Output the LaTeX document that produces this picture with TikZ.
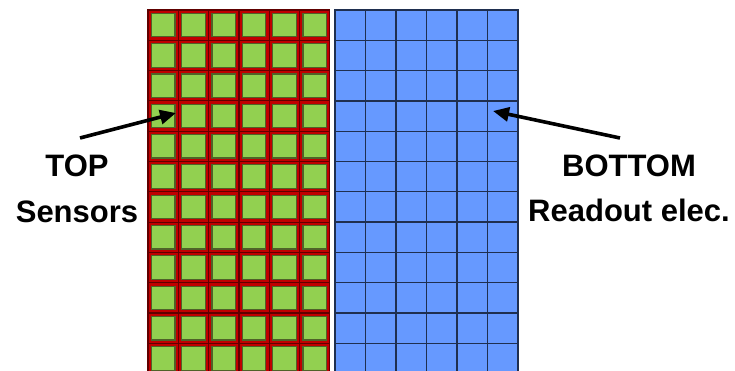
\documentclass[tikz,border=0pt]{standalone}
\usepackage{fontspec}
\setmainfont{Liberation Sans}
\usetikzlibrary{arrows.meta}
\definecolor{padred}{HTML}{C00000}
\definecolor{paddark}{HTML}{600000}
\definecolor{sensgreen}{HTML}{92D050}
\definecolor{sensedge}{HTML}{4F6228}
\definecolor{chipblue}{HTML}{6699FF}
\definecolor{chipline}{HTML}{1F2F50}
\tikzset{
  pixcell/.style={draw=paddark,fill=padred,line width=1.2pt},
  senspad/.style={draw=sensedge,fill=sensgreen,line width=1.2pt},
  rocell/.style={draw=chipline,fill=chipblue,line width=1.3pt},
  lbl/.style={font=\bfseries\fontsize{31}{31}\selectfont,anchor=base,inner sep=0pt},
  ptr/.style={line width=3.6pt,-{Triangle[length=16pt,width=14pt]}}
}
\begin{document}
\begin{tikzpicture}[x=1pt,y=-1pt]
\useasboundingbox (0,0) rectangle (735,371);
\begin{scope}
\clip (0,0) rectangle (735,371);
\foreach \c in {0,...,5}{
  \foreach \r in {0,...,11}{
    \draw[pixcell] (148+30.3*\c,10+30.3*\r) rectangle ++(30.3,30.3);
    \draw[senspad] (151.4+30.3*\c,13.4+30.3*\r) rectangle ++(23.5,23.5);
    \draw[rocell] (335+30.5*\c,10+30.3*\r) rectangle ++(30.5,30.3);
  }}
\end{scope}
\node[lbl] (top) at (77,177) {TOP};
\node[lbl] (sens) at (77,222.5) {Sensors};
\node[lbl] (bot) at (629,177) {BOTTOM};
\node[lbl] (rdo) at (629,222) {Readout elec.};
\coordinate (ltail) at (80,138);
\coordinate (ltip) at (176,113);
\coordinate (rtail) at (620,138);
\coordinate (rtip) at (493,111);
\draw[ptr] (ltail) -- (ltip);
\draw[ptr] (rtail) -- (rtip);
\end{tikzpicture}
\end{document}
